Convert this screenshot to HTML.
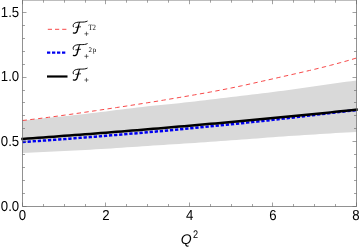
<!DOCTYPE html>
<html><head><meta charset="utf-8">
<style>
html,body{margin:0;padding:0;background:#fff;}
body{width:360px;height:249px;overflow:hidden;font-family:"Liberation Sans",sans-serif;}
svg{display:block;}
text{font-family:"Liberation Sans",sans-serif;fill:#000;text-rendering:geometricPrecision;}
.s{font-family:"Liberation Serif",serif;}
</style></head><body>
<svg width="360" height="249" viewBox="0 0 360 249" style="will-change:transform">
<rect width="360" height="249" fill="#fff"/>
<path d="M22.5 120.40 L27.7 119.90 L32.9 119.40 L38.2 118.88 L43.4 118.36 L48.6 117.84 L53.8 117.30 L59.0 116.75 L64.2 116.20 L69.5 115.64 L74.7 115.06 L79.9 114.48 L85.1 113.89 L90.3 113.29 L95.6 112.67 L100.8 112.05 L106.0 111.41 L111.2 110.76 L116.4 110.11 L121.7 109.45 L126.9 108.80 L132.1 108.16 L137.3 107.53 L142.5 106.92 L147.8 106.33 L153.0 105.77 L158.2 105.23 L163.4 104.71 L168.6 104.20 L173.8 103.68 L179.1 103.16 L184.3 102.62 L189.5 102.06 L194.7 101.47 L199.9 100.86 L205.2 100.23 L210.4 99.58 L215.6 98.93 L220.8 98.28 L226.0 97.64 L231.2 97.00 L236.5 96.38 L241.7 95.77 L246.9 95.16 L252.1 94.56 L257.3 93.95 L262.6 93.34 L267.8 92.70 L273.0 92.05 L278.2 91.37 L283.4 90.67 L288.7 89.96 L293.9 89.22 L299.1 88.48 L304.3 87.73 L309.5 86.97 L314.8 86.21 L320.0 85.45 L325.2 84.70 L330.4 83.96 L335.6 83.22 L340.8 82.51 L346.1 81.81 L351.3 81.13 L356.5 80.48 L356.5 131.89 L351.3 132.19 L346.1 132.50 L340.8 132.80 L335.6 133.11 L330.4 133.43 L325.2 133.75 L320.0 134.07 L314.8 134.40 L309.5 134.73 L304.3 135.07 L299.1 135.41 L293.9 135.76 L288.7 136.12 L283.4 136.48 L278.2 136.85 L273.0 137.22 L267.8 137.60 L262.6 137.99 L257.3 138.38 L252.1 138.77 L246.9 139.16 L241.7 139.55 L236.5 139.94 L231.2 140.33 L226.0 140.71 L220.8 141.09 L215.6 141.46 L210.4 141.82 L205.2 142.18 L199.9 142.54 L194.7 142.88 L189.5 143.23 L184.3 143.57 L179.1 143.91 L173.8 144.24 L168.6 144.58 L163.4 144.91 L158.2 145.25 L153.0 145.59 L147.8 145.94 L142.5 146.29 L137.3 146.65 L132.1 147.01 L126.9 147.36 L121.7 147.72 L116.4 148.07 L111.2 148.41 L106.0 148.74 L100.8 149.06 L95.6 149.37 L90.3 149.66 L85.1 149.95 L79.9 150.23 L74.7 150.50 L69.5 150.77 L64.2 151.03 L59.0 151.29 L53.8 151.54 L48.6 151.79 L43.4 152.03 L38.2 152.28 L32.9 152.53 L27.7 152.78 L22.5 153.03 Z" fill="#d9d9d9"/>
<path d="M22.5 120.51 L27.7 119.91 L32.9 119.29 L38.2 118.65 L43.4 117.99 L48.6 117.31 L53.8 116.62 L59.0 115.92 L64.2 115.20 L69.5 114.47 L74.7 113.73 L79.9 112.98 L85.1 112.22 L90.3 111.46 L95.6 110.69 L100.8 109.91 L106.0 109.13 L111.2 108.35 L116.4 107.56 L121.7 106.77 L126.9 105.97 L132.1 105.17 L137.3 104.36 L142.5 103.54 L147.8 102.71 L153.0 101.87 L158.2 101.02 L163.4 100.16 L168.6 99.29 L173.8 98.41 L179.1 97.52 L184.3 96.63 L189.5 95.73 L194.7 94.82 L199.9 93.90 L205.2 92.97 L210.4 92.02 L215.6 91.05 L220.8 90.06 L226.0 89.04 L231.2 87.99 L236.5 86.91 L241.7 85.79 L246.9 84.66 L252.1 83.50 L257.3 82.33 L262.6 81.15 L267.8 79.97 L273.0 78.79 L278.2 77.62 L283.4 76.44 L288.7 75.27 L293.9 74.09 L299.1 72.90 L304.3 71.70 L309.5 70.48 L314.8 69.24 L320.0 67.97 L325.2 66.68 L330.4 65.34 L335.6 63.97 L340.8 62.56 L346.1 61.10 L351.3 59.59 L356.5 58.03" fill="none" stroke="#f84848" stroke-width="1" stroke-dasharray="4.4 3.4"/>
<path d="M22.5 142.07 L27.7 141.71 L32.9 141.34 L38.2 140.97 L43.4 140.59 L48.6 140.22 L53.8 139.84 L59.0 139.45 L64.2 139.06 L69.5 138.67 L74.7 138.27 L79.9 137.87 L85.1 137.46 L90.3 137.05 L95.6 136.63 L100.8 136.21 L106.0 135.79 L111.2 135.36 L116.4 134.93 L121.7 134.49 L126.9 134.05 L132.1 133.60 L137.3 133.15 L142.5 132.70 L147.8 132.24 L153.0 131.78 L158.2 131.32 L163.4 130.85 L168.6 130.38 L173.8 129.90 L179.1 129.42 L184.3 128.93 L189.5 128.43 L194.7 127.93 L199.9 127.41 L205.2 126.90 L210.4 126.38 L215.6 125.85 L220.8 125.32 L226.0 124.79 L231.2 124.25 L236.5 123.71 L241.7 123.17 L246.9 122.63 L252.1 122.08 L257.3 121.53 L262.6 120.96 L267.8 120.39 L273.0 119.81 L278.2 119.22 L283.4 118.61 L288.7 118.00 L293.9 117.39 L299.1 116.77 L304.3 116.14 L309.5 115.52 L314.8 114.89 L320.0 114.27 L325.2 113.65 L330.4 113.03 L335.6 112.43 L340.8 111.83 L346.1 111.24 L351.3 110.67 L356.5 110.11" fill="none" stroke="#0000f0" stroke-width="2.5" stroke-dasharray="3.3 1.8"/>
<path d="M22.5 138.89 L27.7 138.52 L32.9 138.15 L38.2 137.77 L43.4 137.39 L48.6 137.01 L53.8 136.63 L59.0 136.25 L64.2 135.86 L69.5 135.47 L74.7 135.08 L79.9 134.68 L85.1 134.28 L90.3 133.88 L95.6 133.48 L100.8 133.07 L106.0 132.66 L111.2 132.25 L116.4 131.83 L121.7 131.41 L126.9 130.99 L132.1 130.56 L137.3 130.13 L142.5 129.70 L147.8 129.27 L153.0 128.83 L158.2 128.40 L163.4 127.96 L168.6 127.51 L173.8 127.07 L179.1 126.62 L184.3 126.16 L189.5 125.71 L194.7 125.25 L199.9 124.79 L205.2 124.33 L210.4 123.86 L215.6 123.39 L220.8 122.92 L226.0 122.45 L231.2 121.97 L236.5 121.49 L241.7 121.01 L246.9 120.52 L252.1 120.04 L257.3 119.55 L262.6 119.05 L267.8 118.56 L273.0 118.06 L278.2 117.56 L283.4 117.05 L288.7 116.54 L293.9 116.03 L299.1 115.52 L304.3 115.00 L309.5 114.48 L314.8 113.96 L320.0 113.43 L325.2 112.91 L330.4 112.38 L335.6 111.84 L340.8 111.31 L346.1 110.77 L351.3 110.23 L356.5 109.69" fill="none" stroke="#000" stroke-width="2.5" stroke-linecap="square"/>
<g stroke="#666" stroke-width="0.72" fill="none">
<path d="M22.5 0.1 H356.5 V206.5 H22.5 Z"/>
<path d="M22.50 206.5 v-4 M22.50 0.2 v4 M43.50 206.5 v-2.5 M43.50 0.2 v2.5 M64.50 206.5 v-2.5 M64.50 0.2 v2.5 M85.50 206.5 v-2.5 M85.50 0.2 v2.5 M105.50 206.5 v-4 M105.50 0.2 v4 M126.50 206.5 v-2.5 M126.50 0.2 v2.5 M147.50 206.5 v-2.5 M147.50 0.2 v2.5 M168.50 206.5 v-2.5 M168.50 0.2 v2.5 M189.50 206.5 v-4 M189.50 0.2 v4 M210.50 206.5 v-2.5 M210.50 0.2 v2.5 M231.50 206.5 v-2.5 M231.50 0.2 v2.5 M252.50 206.5 v-2.5 M252.50 0.2 v2.5 M272.50 206.5 v-4 M272.50 0.2 v4 M293.50 206.5 v-2.5 M293.50 0.2 v2.5 M314.50 206.5 v-2.5 M314.50 0.2 v2.5 M335.50 206.5 v-2.5 M335.50 0.2 v2.5 M356.50 206.5 v-4 M356.50 0.2 v4 M22.5 206.50 h4 M356.5 206.50 h-4 M22.5 193.50 h2.5 M356.5 193.50 h-2.5 M22.5 180.50 h2.5 M356.5 180.50 h-2.5 M22.5 167.50 h2.5 M356.5 167.50 h-2.5 M22.5 154.50 h2.5 M356.5 154.50 h-2.5 M22.5 141.50 h4 M356.5 141.50 h-4 M22.5 128.50 h2.5 M356.5 128.50 h-2.5 M22.5 115.50 h2.5 M356.5 115.50 h-2.5 M22.5 102.50 h2.5 M356.5 102.50 h-2.5 M22.5 90.50 h2.5 M356.5 90.50 h-2.5 M22.5 77.50 h4 M356.5 77.50 h-4 M22.5 64.50 h2.5 M356.5 64.50 h-2.5 M22.5 51.50 h2.5 M356.5 51.50 h-2.5 M22.5 38.50 h2.5 M356.5 38.50 h-2.5 M22.5 25.50 h2.5 M356.5 25.50 h-2.5 M22.5 12.50 h4 M356.5 12.50 h-4" stroke-width="0.62"/>
</g>
<g font-size="14.5">
<text transform="translate(0.8,210.6) scale(0.91,1)">0.0</text>
<text transform="translate(0.8,146.0) scale(0.91,1)">0.5</text>
<text transform="translate(0.8,81.4) scale(0.91,1)">1.0</text>
<text transform="translate(0.8,16.7) scale(0.91,1)">1.5</text>
<text transform="translate(22.5,220.3) scale(0.91,1)" text-anchor="middle">0</text>
<text transform="translate(106.0,220.3) scale(0.91,1)" text-anchor="middle">2</text>
<text transform="translate(189.6,220.3) scale(0.91,1)" text-anchor="middle">4</text>
<text transform="translate(273.0,220.3) scale(0.91,1)" text-anchor="middle">6</text>
<text transform="translate(356.0,220.3) scale(0.91,1)" text-anchor="middle">8</text>
<text x="180.8" y="244" font-size="14" font-style="italic">Q</text>
<text transform="translate(192.9,238.4) scale(0.83,1)" font-size="11">2</text>
</g>
<path d="M47.8 29.3 H67" stroke="#f84848" stroke-width="1" stroke-dasharray="4.2 3" fill="none"/>
<path d="M47 52.6 H66" stroke="#0000f0" stroke-width="2.2" stroke-dasharray="3.3 1.7" fill="none"/>
<path d="M47 76.5 H67.5" stroke="#000" stroke-width="2.2" fill="none"/>
<g font-size="8" fill="#111">
<text class="s" x="88.5" y="30" textLength="7.5" lengthAdjust="spacingAndGlyphs">T2</text>
<text class="s" x="88.4" y="52" font-size="7">2</text>
<text class="s" x="92.7" y="52" font-size="7">p</text>
</g>
<defs><g id="sf" fill="none" stroke="#000" stroke-linecap="round" stroke-linejoin="round">
<path d="M73.3 26.8 C72.6 25.2 73.6 23.6 75.2 22.9 C77 22.1 79.5 22.1 81.2 22.1 C83.5 22.1 85.6 22.1 87.2 21.2" stroke-width="0.95"/>
<path d="M79.4 22.4 L78.6 25.5" stroke-width="1.0"/><path d="M78.6 25.5 L77.0 31.2 C76.5 32.7 74.9 33.5 73.4 32.9" stroke-width="1.35"/>
<path d="M75.8 27.4 L80.6 26.8" stroke-width="0.8"/>
</g></defs>
<g fill="none" stroke="#222" stroke-width="0.65" stroke-linecap="round"><path id="pl" d="M84.8 33.8 H88.1 M86.45 32.1 V35.5"/><use href="#pl" y="22.5"/><use href="#pl" y="46.2"/></g>
<use href="#sf"/>
<use href="#sf" y="22.5"/>
<use href="#sf" y="47"/>
</svg>
</body></html>
